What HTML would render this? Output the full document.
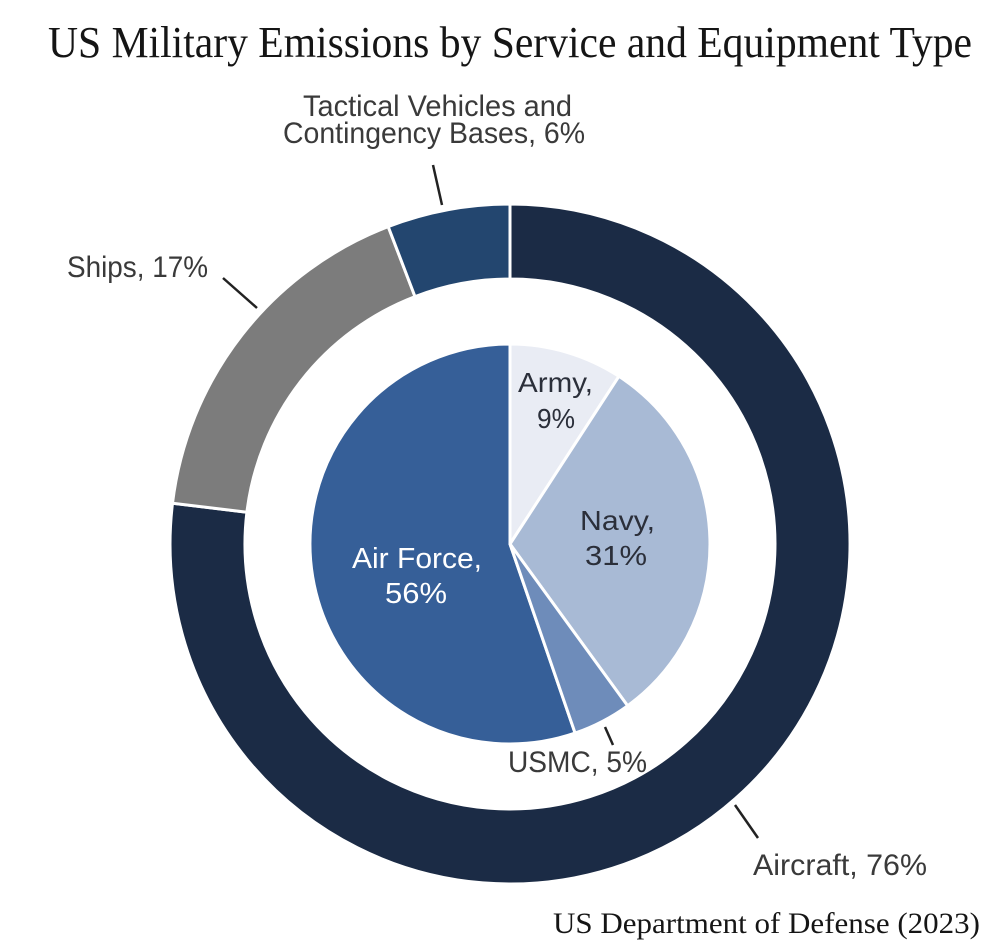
<!DOCTYPE html>
<html>
<head>
<meta charset="utf-8">
<style>
  html, body { margin: 0; padding: 0; background: #ffffff; }
  body { width: 1000px; height: 952px; overflow: hidden; }
  svg { display: block; }
  .lbl { font-family: "Liberation Sans", sans-serif; fill: #3a3a3a; }
  .ser { font-family: "Liberation Serif", serif; fill: #151515; }
</style>
</head>
<body>
<svg width="1000" height="952" viewBox="0 0 1000 952" xmlns="http://www.w3.org/2000/svg">
  <rect width="1000" height="952" fill="#ffffff"/>

  <!-- Title -->
  <text class="ser" x="48" y="57" font-size="44" textLength="924" lengthAdjust="spacingAndGlyphs">US Military Emissions by Service and Equipment Type</text>

  <!-- Outer ring -->
  <g stroke="#ffffff" stroke-width="3" stroke-linejoin="miter">
    <path d="M510,204 A340,340 0 1 1 172.5,503.2 L246.9,512.2 A265,265 0 1 0 510,279 Z" fill="#1b2b45"/>
    <path d="M172.5,503.2 A340,340 0 0 1 388.2,226.6 L415.0,296.6 A265,265 0 0 0 246.9,512.2 Z" fill="#7c7c7c"/>
    <path d="M388.2,226.6 A340,340 0 0 1 510,204 L510,279 A265,265 0 0 0 415.0,296.6 Z" fill="#23466f"/>
  </g>

  <!-- Inner pie -->
  <g stroke="#ffffff" stroke-width="3" stroke-linejoin="round">
    <path d="M510,544 L575.1,733.1 A200,200 0 1 1 510,344 Z" fill="#365f98"/>
    <path d="M510,544 L510,344 A200,200 0 0 1 618.9,376.3 Z" fill="#e9ecf4"/>
    <path d="M510,544 L618.9,376.3 A200,200 0 0 1 627.6,705.8 Z" fill="#a8bad5"/>
    <path d="M510,544 L627.6,705.8 A200,200 0 0 1 575.1,733.1 Z" fill="#6e8cba"/>
  </g>

  <!-- Leader lines -->
  <g stroke="#222222" stroke-width="2.5" stroke-linecap="butt">
    <line x1="433" y1="165" x2="442" y2="205"/>
    <line x1="223" y1="278" x2="257" y2="308"/>
    <line x1="605" y1="727" x2="613" y2="745"/>
    <line x1="735" y1="805" x2="758" y2="838"/>
  </g>

  <!-- Outer labels -->
  <text class="lbl" x="303" y="116" font-size="30" textLength="269" lengthAdjust="spacingAndGlyphs">Tactical Vehicles and</text>
  <text class="lbl" x="283" y="143" font-size="30" textLength="302" lengthAdjust="spacingAndGlyphs">Contingency Bases, 6%</text>
  <text class="lbl" x="67" y="277" font-size="30" textLength="141" lengthAdjust="spacingAndGlyphs">Ships, 17%</text>
  <text class="lbl" x="508" y="772" font-size="30" textLength="139" lengthAdjust="spacingAndGlyphs">USMC, 5%</text>
  <text class="lbl" x="753" y="875" font-size="30" textLength="174" lengthAdjust="spacingAndGlyphs">Aircraft, 76%</text>

  <!-- Inner labels -->
  <text class="lbl" x="518" y="392" font-size="28" fill="#2b2f3a" style="fill:#2b2f3a" textLength="75" lengthAdjust="spacingAndGlyphs">Army,</text>
  <text class="lbl" x="537" y="428" font-size="28" style="fill:#2b2f3a" textLength="38" lengthAdjust="spacingAndGlyphs">9%</text>
  <text class="lbl" x="580" y="530" font-size="28" style="fill:#2b2f3a" textLength="75" lengthAdjust="spacingAndGlyphs">Navy,</text>
  <text class="lbl" x="585" y="565" font-size="28" style="fill:#2b2f3a" textLength="62" lengthAdjust="spacingAndGlyphs">31%</text>
  <text class="lbl" x="352" y="568" font-size="29" style="fill:#ffffff" textLength="130" lengthAdjust="spacingAndGlyphs">Air Force,</text>
  <text class="lbl" x="385" y="603" font-size="29" style="fill:#ffffff" textLength="62" lengthAdjust="spacingAndGlyphs">56%</text>

  <!-- Source -->
  <text class="ser" x="553" y="933" font-size="30" textLength="427" lengthAdjust="spacingAndGlyphs">US Department of Defense (2023)</text>
</svg>
</body>
</html>
